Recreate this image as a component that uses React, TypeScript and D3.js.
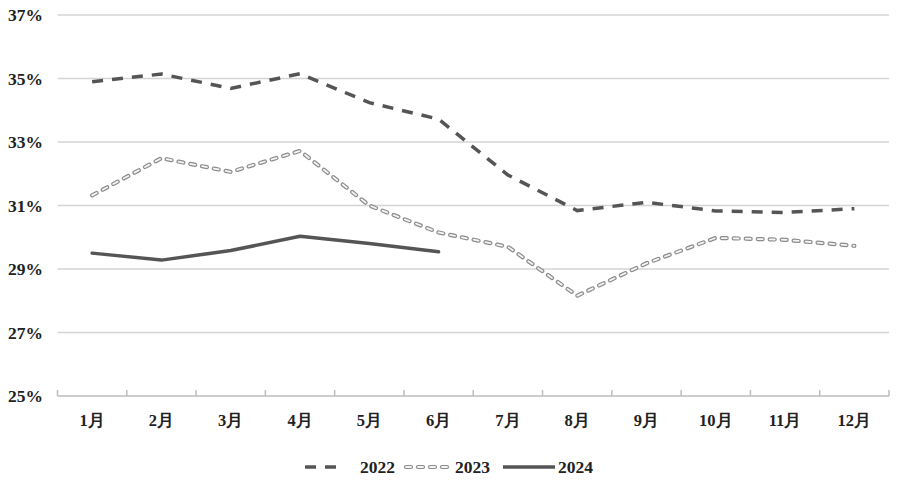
import React from "react";
import * as d3 from "d3";

const months = ["1月", "2月", "3月", "4月", "5月", "6月", "7月", "8月", "9月", "10月", "11月", "12月"];
const yTicks = [25, 27, 29, 31, 33, 35, 37];
const s2022 = [34.9, 35.14, 34.69, 35.15, 34.24, 33.72, 31.96, 30.84, 31.1, 30.83, 30.78, 30.9];
const s2023 = [31.32, 32.49, 32.06, 32.72, 31.0, 30.15, 29.7, 28.16, 29.18, 29.98, 29.92, 29.73];
const s2024 = [29.5, 29.28, 29.58, 30.03, 29.8, 29.54];

const W = 900, H = 486;
const left = 57.5, right = 889, top = 15, bottom = 396;
const font = "'Liberation Serif', 'Times New Roman', serif";

export default function App() {
  const x = d3.scaleBand<string>().domain(months).range([left, right]);
  const y = d3.scaleLinear().domain([25, 37]).range([bottom, top]);
  const cx = (i: number) => (x(months[i]) as number) + x.bandwidth() / 2;
  const line = d3.line<number>().x((_, i) => cx(i)).y((d) => y(d));

  return (
    <svg width={W} height={H} style={{ position: "absolute", left: 0, top: 0, background: "#fff" }}>
      {yTicks.map((t) => (
        <g key={t}>
          <line x1={left} x2={right} y1={y(t)} y2={y(t)} stroke={t === 25 ? "#bdbdbd" : "#d4d4d4"} strokeWidth={1.5} />
          <text x={43} y={y(t)} dy="0.35em" textAnchor="end" fontFamily={font} fontWeight="bold" fontSize={17.5} fill="#222">
            {t}%
          </text>
        </g>
      ))}
      {d3.range(months.length + 1).map((i) => {
        const xx = left + i * x.bandwidth();
        return <line key={i} x1={xx} x2={xx} y1={bottom - 6} y2={bottom} stroke="#bdbdbd" strokeWidth={1.5} />;
      })}
      {months.map((m, i) => (
        <text key={m} x={cx(i)} y={420} dy="0.35em" textAnchor="middle" fontFamily={font} fontWeight="bold" fontSize={16.5} fill="#222">
          {m}
        </text>
      ))}
      <path d={line(s2022) || ""} fill="none" stroke="#555" strokeWidth={3.5} strokeDasharray="11 9" />
      <path d={line(s2023) || ""} fill="none" stroke="#8c8c8c" strokeWidth={4.2} strokeDasharray="5 7" strokeLinecap="round" />
      <path d={line(s2023) || ""} fill="none" stroke="#f4f4f4" strokeWidth={1.8} strokeDasharray="5 7" strokeLinecap="round" />
      <path d={line(s2024) || ""} fill="none" stroke="#555" strokeWidth={3.5} strokeLinejoin="round" strokeLinecap="round" />
      <g fontFamily={font} fontWeight="bold" fontSize={17.5} fill="#222">
        <line x1={305} x2={345} y1={467} y2={467} stroke="#555" strokeWidth={3.5} strokeDasharray="11 9" />
        <text x={360} y={467} dy="0.35em">2022</text>
        <line x1={406} x2={452} y1={467} y2={467} stroke="#8c8c8c" strokeWidth={4.2} strokeDasharray="5 7" strokeLinecap="round" />
        <line x1={406} x2={452} y1={467} y2={467} stroke="#f4f4f4" strokeWidth={1.8} strokeDasharray="5 7" strokeLinecap="round" />
        <text x={455} y={467} dy="0.35em">2023</text>
        <line x1={503} x2={555} y1={467} y2={467} stroke="#555" strokeWidth={3.5} />
        <text x={558} y={467} dy="0.35em">2024</text>
      </g>
    </svg>
  );
}
